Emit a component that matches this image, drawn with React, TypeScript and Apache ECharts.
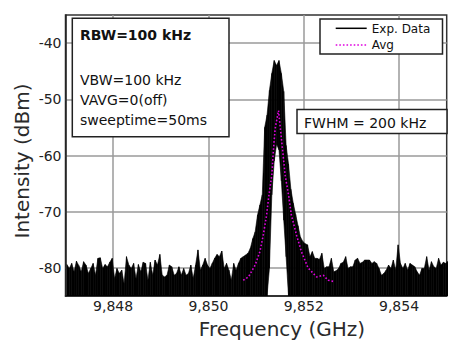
import React, { useEffect, useRef } from 'react';
import * as echarts from 'echarts';

// Spectrum trace, sampled every 50 kHz starting at FREQ_START (GHz)
const FREQ_START = 9.84703;
const FREQ_STEP = 0.00005;

// upper envelope of the measured trace (dBm)
const UPPER = [
  -79.4, -80.1, -79.2, -80.7, -78.8, -79.6, -80.7, -78.9, -79.5, -81.0,
  -80.1, -79.2, -81.3, -78.3, -78.2, -80.1, -79.4, -79.8, -79.0, -78.3,
  -81.9, -80.1, -81.0, -80.4, -82.8, -78.0, -79.5, -80.1, -79.2, -81.9,
  -79.4, -80.7, -79.0, -79.2, -82.2, -79.0, -81.3, -78.6, -79.5, -77.6,
  -81.3, -81.6, -81.3, -79.5, -79.8, -81.3, -81.0, -79.8, -81.3, -80.1,
  -81.3, -81.0, -79.5, -81.9, -79.5, -76.8, -80.4, -79.5, -78.3, -79.5,
  -80.1, -79.2, -78.3, -77.6, -78.0, -77.0, -80.1, -79.2, -80.4, -82.2,
  -79.2, -80.4, -79.2, -78.3, -78.0, -77.7, -77.4, -76.5, -74.8, -73.6,
  -70.6, -68.8, -67.0, -55.0, -52.8, -48.4, -45.4, -43.1, -44.0, -43.1,
  -45.4, -48.6, -58.2, -61.5, -66.0, -68.5, -70.5, -72.5, -74.5, -75.3,
  -75.7, -75.9, -78.0, -77.1, -78.3, -78.3, -78.5, -77.4, -80.1, -79.8,
  -79.8, -78.3, -80.7, -80.5, -80.1, -79.2, -79.0, -78.0, -80.1, -79.8,
  -79.8, -78.6, -78.3, -79.2, -79.0, -78.6, -78.6, -78.6, -79.2, -78.9,
  -79.2, -80.1, -81.3, -81.0, -80.4, -79.5, -80.1, -78.6, -80.4, -75.9,
  -79.2, -80.1, -79.2, -80.4, -79.2, -79.5, -79.8, -80.7, -81.3, -80.1,
  -80.1, -78.0, -80.4, -78.9, -79.8, -80.1, -78.3, -79.5, -79.0, -79.2,
  -78.8,
];

// lower envelope of the measured trace (dBm); -85 = bottom of the plot
const LOWER = [
  -85, -85, -85, -85, -85, -85, -85, -85, -85, -85,
  -85, -85, -85, -85, -85, -85, -85, -85, -85, -85,
  -85, -85, -85, -85, -85, -85, -85, -85, -85, -85,
  -85, -85, -85, -85, -85, -85, -85, -85, -85, -85,
  -85, -85, -85, -85, -85, -85, -85, -85, -85, -85,
  -85, -85, -85, -85, -85, -85, -85, -85, -85, -85,
  -85, -85, -85, -85, -85, -85, -85, -85, -85, -85,
  -85, -85, -85, -85, -85, -85, -85, -85, -85, -85,
  -85, -85, -85, -85, -85, -80, -67, -61, -58, -59,
  -64.5, -71.5, -78, -85, -85, -85, -85, -85, -85, -85,
  -85, -85, -85, -85, -85, -85, -85, -85, -85, -85,
  -85, -85, -85, -85, -85, -85, -85, -85, -85, -85,
  -85, -85, -85, -85, -85, -85, -85, -85, -85, -85,
  -85, -85, -85, -85, -85, -85, -85, -85, -85, -85,
  -85, -85, -85, -85, -85, -85, -85, -85, -85, -85,
  -85, -85, -85, -85, -85, -85, -85, -85, -85, -85,
  -85,
];

// averaged trace
const AVG_FREQ = [
  9.85073, 9.85084, 9.85098, 9.85108, 9.85115, 9.85122, 9.85127, 9.85133,
  9.85136, 9.8514, 9.85147, 9.85151, 9.85156, 9.85161, 9.85168, 9.85174,
  9.85185, 9.85195, 9.85209, 9.85227, 9.85241, 9.85251, 9.85262,
];
const AVG_DB = [
  -82.2, -81.6, -79.5, -77.1, -74.2, -70.6, -67.0, -63.5,
  -59.4, -55.2, -52.0, -55.2, -59.4, -63.5, -67.0, -70.6,
  -74.2, -77.1, -80.0, -81.6, -81.3, -82.2, -82.4,
];

const X_TICKS = [9.848, 9.85, 9.852, 9.854];
const Y_TICKS = [-80, -70, -60, -50, -40];

const INFO_TITLE = 'RBW=100 kHz';
const INFO_LINES = ['VBW=100 kHz', 'VAVG=0(off)', 'sweeptime=50ms'];
const FWHM_TEXT = 'FWHM = 200 kHz';

const FONT = 'DejaVu Sans';
const MAGENTA = '#e000e0';

export default function App() {
  const ref = useRef<HTMLDivElement>(null);

  useEffect(() => {
    if (!ref.current) return;
    const chart = echarts.init(ref.current, undefined, { renderer: 'svg' });

    const bandData = UPPER.map((u, i) => [FREQ_START + FREQ_STEP * i, u, LOWER[i]]);
    const avgData = AVG_FREQ.map((f, i) => [f, AVG_DB[i]]);

    const renderItem = (params: any, api: any) => {
      const i = params.dataIndexInside;
      if (i >= params.dataInsideLength - 1) return { type: 'group', children: [] };
      const f0 = api.value(0, i);
      const u0 = api.value(1, i);
      const l0 = api.value(2, i);
      const f1 = api.value(0, i + 1);
      const u1 = api.value(1, i + 1);
      const l1 = api.value(2, i + 1);
      const pts = [api.coord([f0, u0]), api.coord([f1, u1]), api.coord([f1, l1]), api.coord([f0, l0])];
      return {
        type: 'polygon',
        shape: { points: pts },
        style: { fill: '#000', stroke: '#000', lineWidth: 0.6 },
      };
    };

    const txt = (text: string, x: number, y: number, size: number, extra: any = {}) => ({
      type: 'text',
      x,
      y,
      z: 100,
      style: {
        text,
        fontSize: size,
        fontFamily: FONT,
        fill: '#111',
        align: 'left',
        verticalAlign: 'middle',
        ...extra,
      },
    });

    chart.setOption({
      animation: false,
      grid: {
        left: 65.5,
        right: 2.3,
        top: 15,
        bottom: 44,
        show: true,
        borderColor: '#333',
        borderWidth: 1.5,
        backgroundColor: '#fff',
      },
      xAxis: {
        type: 'value',
        min: 9.847,
        max: 9.855,
        axisLine: { show: true, onZero: false, lineStyle: { color: '#222', width: 1.5 } },
        axisTick: { show: false, customValues: X_TICKS },
        axisLabel: {
          customValues: X_TICKS,
          formatter: (v: number) => v.toFixed(3).replace('.', ','),
          color: '#222',
          fontFamily: FONT,
          fontSize: 14,
          margin: 3,
        },
        splitLine: { show: true, lineStyle: { color: '#9a9a9a', width: 1.5 } },
      },
      yAxis: {
        type: 'value',
        min: -85,
        max: -35,
        axisLine: { show: true, onZero: false, lineStyle: { color: '#222', width: 1.5 } },
        axisTick: { show: false, customValues: Y_TICKS },
        axisLabel: {
          customValues: Y_TICKS,
          color: '#222',
          fontFamily: FONT,
          fontSize: 14,
          margin: 4,
        },
        splitLine: { show: true, lineStyle: { color: '#9a9a9a', width: 1.5 } },
      },
      series: [
        {
          name: 'Exp. Data',
          type: 'custom',
          clip: true,
          data: bandData,
          encode: { x: 0, y: [1, 2] },
          renderItem,
          z: 2,
        },
        {
          name: 'Avg',
          type: 'line',
          data: avgData,
          symbol: 'none',
          lineStyle: { color: MAGENTA, width: 1.6, type: [1.6, 2] },
          z: 3,
        },
      ],
      graphic: [
        // info box
        {
          type: 'rect',
          z: 99,
          shape: { x: 72.3, y: 18.3, width: 156.7, height: 118.4 },
          style: { fill: '#fff', stroke: '#222', lineWidth: 1.5 },
        },
        txt(INFO_TITLE, 80, 34.6, 14, { fontWeight: 'bold' }),
        txt(INFO_LINES[0], 80, 79.5, 14),
        txt(INFO_LINES[1], 80, 99.5, 14),
        txt(INFO_LINES[2], 80, 119.5, 14),
        // FWHM box
        {
          type: 'rect',
          z: 99,
          shape: { x: 297, y: 109.5, width: 150, height: 24 },
          style: { fill: '#fff', stroke: '#222', lineWidth: 1.5 },
        },
        txt(FWHM_TEXT, 304, 122.5, 14),
        // legend
        {
          type: 'rect',
          z: 99,
          shape: { x: 320, y: 19, width: 122.5, height: 35 },
          style: { fill: '#fff', stroke: '#222', lineWidth: 1.5 },
        },
        {
          type: 'line',
          z: 100,
          shape: { x1: 335.7, y1: 28.3, x2: 366.7, y2: 28.3 },
          style: { stroke: '#000', lineWidth: 1.5 },
        },
        {
          type: 'line',
          z: 100,
          shape: { x1: 335.7, y1: 45, x2: 366.7, y2: 45 },
          style: { stroke: MAGENTA, lineWidth: 1.6, lineDash: [1.6, 2] },
        },
        txt('Exp. Data', 371.7, 28.5, 12),
        txt('Avg', 371.7, 45.3, 12),
        // axis names
        {
          type: 'text',
          x: 22,
          y: 161,
          rotation: Math.PI / 2,
          z: 100,
          style: {
            text: 'Intensity (dBm)',
            fontSize: 20,
            fontFamily: FONT,
            fill: '#2a2a2a',
            align: 'center',
            verticalAlign: 'middle',
          },
        },
        {
          type: 'text',
          x: 282,
          y: 328.5,
          z: 100,
          style: {
            text: 'Frequency (GHz)',
            fontSize: 20,
            fontFamily: FONT,
            fill: '#2a2a2a',
            align: 'center',
            verticalAlign: 'middle',
          },
        },
      ],
    });

    return () => chart.dispose();
  }, []);

  return (
    <div
      ref={ref}
      style={{ position: 'fixed', left: 0, top: 0, width: 449, height: 340, background: '#fff' }}
    />
  );
}
